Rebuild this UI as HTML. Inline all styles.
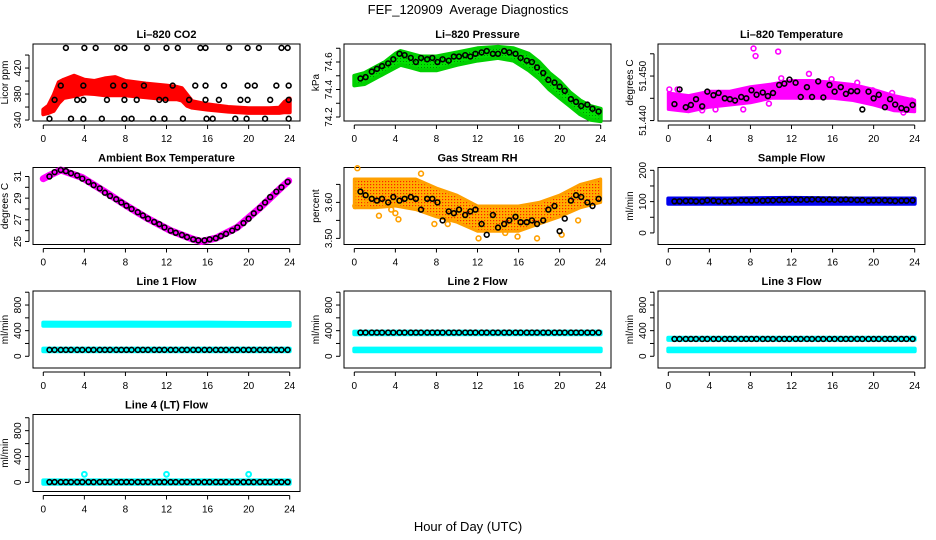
<!DOCTYPE html>
<html><head><meta charset="utf-8">
<style>
html,body{margin:0;padding:0;background:#fff;}
svg{display:block;font-family:"Liberation Sans",sans-serif;}
</style></head>
<body>
<svg id="chart" width="936" height="540" viewBox="0 0 936 540">
<defs>
<pattern id="rhpat" width="3" height="3" patternUnits="userSpaceOnUse">
<rect width="3" height="3" fill="#ffb000"/><rect x="1" y="1" width="1.2" height="1.2" fill="#ff2000"/>
</pattern>
<pattern id="grpat" width="3" height="3" patternUnits="userSpaceOnUse">
<rect width="3" height="3" fill="#00e000"/><rect x="1" y="1" width="1" height="1" fill="#008800"/>
</pattern>
</defs>
<text x="468" y="14" text-anchor="middle" font-size="13" xml:space="preserve">FEF_120909&#160; Average Diagnostics</text>
<text x="468" y="531" text-anchor="middle" font-size="13">Hour of Day (UTC)</text>
</svg>
<script>
// ---- shared data ----
const xTicks = [0,4,8,12,16,20,24];
const blackH = [0.6,1.1,1.7,2.2,2.7,3.3,3.8,4.4,4.9,5.5,6.0,6.5,7.1,7.6,8.1,8.6,9.2,9.7,10.2,10.8,11.3,11.8,12.4,12.9,13.5,14.0,14.6,15.1,15.7,16.2,16.8,17.3,17.8,18.4,18.9,19.5,20.0,20.5,21.1,21.6,22.1,22.7,23.2,23.8];

// CO2
const co2H = [2.2,4.0,5.1,7.2,7.9,10.1,12.0,13.1,15.3,15.8,18.1,19.9,21.0,23.2,23.8,
 1.7,3.9,6.8,7.9,9.8,12.6,14.8,15.8,17.6,19.9,20.6,22.7,23.9,
 1.1,3.3,3.9,6.2,7.9,9.1,11.3,11.9,14.2,15.8,17.1,19.2,19.9,22.1,23.9,
 0.6,2.7,3.9,5.7,7.9,8.6,10.7,11.8,13.6,15.9,16.5,18.7,19.8,21.6,23.9];
const co2V = [451,451,451,451,451,451,451,451,451,451,451,451,451,451,451,
 393,393,393,393,393,393,393,393,393,393,393,393,393,
 371,371,371,371,371,371,371,371,371,371,371,371,371,371,371,
 342,342,342,342,342,342,342,342,342,342,342,342,342,342,342];
const co2BandH = [0,0.5,1,1.5,2,3,4,5,6,7,8,10,12,13,13.5,14,14.5,16,18,20,22,23,23.5,24];
const co2Lo = [349,351,354,366,374,377,381,380,378,378,378,375,372,372,370,362,359,356,353,351,351,351,352,352];
const co2Hi = [356,362,378,398,402,408,402,400,404,406,400,396,393,391,389,379,369,364,360,358,358,359,368,373];

// Pressure
const presV = [74.48,74.49,74.53,74.55,74.57,74.59,74.62,74.66,74.65,74.63,74.60,74.63,74.62,74.63,74.60,74.62,74.61,74.64,74.64,74.65,74.64,74.66,74.67,74.68,74.66,74.66,74.68,74.67,74.66,74.63,74.61,74.60,74.56,74.52,74.47,74.45,74.42,74.39,74.33,74.31,74.28,74.29,74.26,74.24];
const presBandH = [0,1,2,3,4,4.5,5.5,6.5,8,10,12,14,15.5,17,18,19,20,21,22,23,24];
const presLo = [74.43,74.44,74.48,74.52,74.56,74.58,74.56,74.54,74.54,74.58,74.61,74.63,74.61,74.54,74.48,74.40,74.34,74.28,74.22,74.18,74.17];
const presHi = [74.50,74.52,74.56,74.60,74.66,74.68,74.66,74.64,74.64,74.67,74.70,74.71,74.70,74.66,74.60,74.52,74.46,74.38,74.32,74.28,74.26];

// Li-820 temperature
const tempV = [51.4437,51.4470,51.4430,51.4435,51.4448,51.4432,51.4465,51.4457,51.4462,51.4450,51.4448,51.4445,51.4453,51.4450,51.4468,51.4458,51.4463,51.4455,51.4462,51.4480,51.4483,51.4492,51.4485,51.4453,51.4475,51.4453,51.4488,51.4452,51.4480,51.4465,51.4475,51.4460,51.4466,51.4466,51.4425,51.4465,51.4450,51.4458,51.4430,51.4448,51.4436,51.4428,51.4425,51.4435];
const tempBandH = [0,2,4,6,8,10,12,14,16,18,20,22,24];
const tempLo = [51.4425,51.4420,51.4430,51.4435,51.4440,51.4450,51.4450,51.4450,51.4450,51.4445,51.4435,51.4422,51.4420];
const tempHi = [51.4462,51.4456,51.4466,51.4466,51.4476,51.4482,51.4490,51.4490,51.4486,51.4481,51.4470,51.4456,51.4446];
const tempOutH = [0.1,0.9,2.0,3.3,4.6,7.3,8.3,8.5,9.8,10.7,11.0,13.7,15.9,18.4,19.9,21.8,22.9,23.7];
const tempOutV = [51.4470,51.4470,51.4425,51.4423,51.4425,51.4425,51.4562,51.4545,51.4438,51.4555,51.4495,51.4505,51.4493,51.4485,51.4468,51.4462,51.4418,51.4445];

// Ambient box temperature
const ambV = [31.0,31.4,31.6,31.5,31.3,31.1,30.8,30.5,30.2,29.9,29.5,29.2,28.9,28.6,28.3,28.0,27.7,27.4,27.1,26.8,26.6,26.3,26.0,25.8,25.6,25.4,25.2,25.1,25.1,25.2,25.3,25.5,25.7,26.0,26.3,26.7,27.1,27.6,28.1,28.6,29.1,29.6,30.0,30.5];
const ambLineH = [0,0.6,1.7,3.8,6.0,8.1,10.2,12.4,14.6,15.4,16.8,18.9,21.1,23.2,23.9];
const ambLineV = [30.8,31.1,31.6,30.9,29.6,28.3,27.1,26.0,25.2,25.0,25.3,26.3,28.1,30.0,30.6];

// Gas stream RH
const rhV = [3.63,3.62,3.61,3.605,3.61,3.60,3.615,3.605,3.61,3.615,3.61,3.58,3.61,3.61,3.60,3.55,3.575,3.57,3.58,3.565,3.575,3.58,3.54,3.51,3.565,3.53,3.54,3.55,3.56,3.545,3.545,3.55,3.54,3.55,3.58,3.59,3.52,3.555,3.605,3.62,3.615,3.60,3.59,3.61];
const rhBandH = [0,2,4,6,8,10,12,14,16,18,20,22,24];
const rhLo = [3.585,3.585,3.590,3.580,3.560,3.545,3.520,3.520,3.520,3.540,3.560,3.585,3.600];
const rhHi = [3.665,3.665,3.665,3.665,3.640,3.620,3.590,3.590,3.590,3.600,3.620,3.650,3.665];
const rhOutH = [0.3,1.3,2.4,3.6,4.0,4.3,6.5,7.8,9.1,12.1,14.7,15.9,17.8,20.2,21.8,0.1];
const rhOutV = [3.695,3.600,3.563,3.580,3.570,3.553,3.680,3.540,3.540,3.500,3.515,3.505,3.500,3.510,3.550,3.590];

// Sample flow
const sampV = [101,101,102,102,101,101,104,103,101,101,101,103,104,104,103,104,103,104,104,105,105,106,106,106,106,107,107,106,107,106,106,107,106,105,105,103,104,104,104,103,102,103,103,104];
const sampLo = [93,93,93,93,93];
const sampHi = [110,110,112,110,110];
const sampBandH = [0,6,12,18,24];

// Line flows
const flowBandH = [0,4,8,12,16,20,24];
const l1HiLo = [478,478,478,478,478,478,478];
const l1HiHi = [525,522,526,524,526,520,520];
const l1LoLo = [80,80,80,80,80,80,80];
const l1LoHi = [120,120,120,120,120,120,120];
const l1Black = [100,100,100,100,100,100,100,100,100,100,100,100,100,100,100,100,100,100,100,100,100,100,100,100,100,100,100,100,100,100,100,100,100,100,100,100,100,100,100,100,100,100,100,100];
const l2HiLo = [345,345,345,345,345,345,345];
const l2HiHi = [385,385,385,385,385,385,385];
const l2Black = [370,370,370,370,370,370,370,370,370,370,370,370,370,370,370,370,370,370,370,370,370,370,370,370,370,370,370,370,370,370,370,370,370,370,370,370,370,370,370,370,370,370,370,370];
const l3HiLo = [255,255,255,255,255,255,255];
const l3HiHi = [290,290,290,290,290,290,290];
const l3Black = [270,270,270,270,270,270,270,270,270,270,270,270,270,270,270,270,270,270,270,270,270,270,270,270,270,270,270,270,270,270,270,270,270,270,270,270,270,270,270,270,270,270,270,270];
const l4Black = [5,5,5,5,5,5,5,5,5,5,5,5,5,5,5,5,5,5,5,5,5,5,5,5,5,5,5,5,5,5,5,5,5,5,5,5,5,5,5,5,5,5,5,5];
const l4CyanLo = [-20,-20,-20,-20,-20,-20,-20];
const l4CyanHi = [30,30,30,30,30,30,30];
const l4OutH = [4.0,12.0,20.0];
const l4OutV = [125,125,125];

// ---- drawing ----
const NS = "http://www.w3.org/2000/svg";
const svg = document.getElementById('chart');
function mk(tag, attrs, parent){
  const e = document.createElementNS(NS, tag);
  for (const k in attrs) e.setAttribute(k, attrs[k]);
  (parent||svg).appendChild(e);
  return e;
}
const colL = [33, 344, 658];
const W = 267, H = 77;
function panel(col,row,title,ylab,ymin,ymax,ticks,labels,name){
  const L = colL[col], T = 44 + row*123.5;
  const g = mk('g',{});
  
  
  const sx = h => L + 10.3 + h*(W-20.6)/24;
  const sy = v => T + H - (v-ymin)/(ymax-ymin)*H;
  const t = mk('text',{x:L+W/2,y:T-6,'text-anchor':'middle','font-size':'11','font-weight':'bold'},g);
  t.textContent = title;
  
  
  const box = mk('rect',{x:L,y:T,width:W,height:H,fill:'none',stroke:'#000','stroke-width':1},g);
  
  
  const xa = mk('g',{},g);
  
  
  mk('line',{x1:sx(0),x2:sx(24),y1:T+H+4,y2:T+H+4,stroke:'#000'},xa);
  xTicks.forEach(v=>{
    mk('line',{x1:sx(v),x2:sx(v),y1:T+H+4,y2:T+H+8,stroke:'#000'},xa);
    const tx = mk('text',{x:sx(v),y:T+H+21,'text-anchor':'middle','font-size':'10'},xa);
    tx.textContent = v;
  });
  const ya = mk('g',{},g);
  
  
  mk('line',{x1:L-4,x2:L-4,y1:sy(ticks[0]),y2:sy(ticks[ticks.length-1]),stroke:'#000'},ya);
  ticks.forEach(v=>{
    mk('line',{x1:L-8,x2:L-4,y1:sy(v),y2:sy(v),stroke:'#000'},ya);
  });
  labels.forEach(v=>{
    const yy = sy(v);
    const tx = mk('text',{x:L-12,y:yy,'text-anchor':'middle','font-size':'10',transform:`rotate(-90 ${L-12} ${yy})`},ya);
    tx.textContent = (typeof v==='number' && title.indexOf('Temperature')>=0 && v>51) ? v.toFixed(3) : (title==='Gas Stream RH'? v.toFixed(2) : v);
  });
  const yl = mk('text',{x:L-25,y:T+H/2,'text-anchor':'middle','font-size':'10',transform:`rotate(-90 ${L-25} ${T+H/2})`},g);
  yl.textContent = ylab;
  
  
  const plot = mk('g',{},g);
  
  
  return {sx,sy,g:plot};
}
function band(p,hs,lo,hi,fill,name,sw){
  let d = '';
  hs.forEach((h,i)=>{ d += (i?'L':'M')+p.sx(h).toFixed(1)+','+p.sy(hi[i]).toFixed(1); });
  for (let i=hs.length-1;i>=0;i--) d += 'L'+p.sx(hs[i]).toFixed(1)+','+p.sy(lo[i]).toFixed(1);
  const e = mk('path',{d:d+'Z',fill:fill,stroke:fill==='url(#rhpat)'?'#ffa000':(fill.startsWith('url')?'#00d000':fill),'stroke-width':sw||4,'stroke-linejoin':'round'},p.g);
  
  
}
function pts(p,hs,vs,color,name,sw){
  hs.forEach((h,i)=>{
    const c = mk('circle',{cx:p.sx(h),cy:p.sy(vs[i]),r:2.4,fill:'none',stroke:color,'stroke-width':sw||1.6},p.g);
    
    
  });
}
function poly(p,hs,vs,color,w,name){
  const d = hs.map((h,i)=>(i?'L':'M')+p.sx(h).toFixed(1)+','+p.sy(vs[i]).toFixed(1)).join('');
  const e = mk('path',{d:d,fill:'none',stroke:color,'stroke-width':w,'stroke-linecap':'round','stroke-linejoin':'round'},p.g);
  
  
}

// Panel 1: CO2
let p = panel(0,0,'Li\u2013820 CO2','Licor ppm',338.5,457,[340,360,380,400,420,440],[340,380,420],'co2-panel');
band(p,co2BandH,co2Lo,co2Hi,'#ff0000','co2-raw-band');
pts(p,co2H,co2V,'#000','co2-average-point');

// Panel 2: Pressure
p = panel(1,0,'Li\u2013820 Pressure','kPa',74.171,74.731,[74.2,74.3,74.4,74.5,74.6,74.7],[74.2,74.4,74.6],'pressure-panel');
band(p,presBandH,presLo,presHi,'url(#grpat)','pressure-raw-band');
pts(p,blackH,presV,'#000','pressure-average-point');

// Panel 3: Temperature
p = panel(2,0,'Li\u2013820 Temperature','degrees C',51.4399,51.4572,[51.440,51.445,51.450,51.455],[51.440,51.450],'li820-temperature-panel');
band(p,tempBandH,tempLo,tempHi,'#ff00ff','temperature-raw-band',3);
pts(p,tempOutH,tempOutV,'#ff00ff','temperature-raw-point');
pts(p,blackH,tempV,'#000','temperature-average-point');

// Panel 4: Ambient
p = panel(0,1,'Ambient Box Temperature','degrees C',24.72,31.83,[25,26,27,28,29,30,31],[25,27,29,31],'ambient-temperature-panel');
poly(p,ambLineH,ambLineV,'#ff00ff',7,'ambient-raw-line');
pts(p,blackH,ambV,'#000','ambient-average-point');

// Panel 5: RH
p = panel(1,1,'Gas Stream RH','percent',3.483,3.697,[3.50,3.55,3.60,3.65],[3.50,3.60],'rh-panel');
band(p,rhBandH,rhLo,rhHi,'url(#rhpat)','rh-raw-band',3);
pts(p,rhOutH,rhOutV,'#ffa000','rh-raw-point');
pts(p,blackH,rhV,'#000','rh-average-point');

// Panel 6: Sample flow
p = panel(2,1,'Sample Flow','ml/min',-37,209,[0,50,100,150,200],[0,100,200],'sample-flow-panel');
band(p,sampBandH,sampLo,sampHi,'#0000ee','sample-flow-raw-band');
pts(p,blackH,sampV,'#000','sample-flow-average-point');

// Panel 7: Line 1
const fT = [0,200,400,600,800,1000], fL = [0,400,800];
p = panel(0,2,'Line 1 Flow','ml/min',-183,1019,fT,fL,'line1-flow-panel');
band(p,flowBandH,l1HiLo,l1HiHi,'#00ffff','line1-high-band');
band(p,flowBandH,l1LoLo,l1LoHi,'#00ffff','line1-low-band');
pts(p,blackH,l1Black,'#000','line1-average-point');

// Panel 8: Line 2
p = panel(1,2,'Line 2 Flow','ml/min',-183,1019,fT,fL,'line2-flow-panel');
band(p,flowBandH,l2HiLo,l2HiHi,'#00ffff','line2-high-band');
band(p,flowBandH,l1LoLo,l1LoHi,'#00ffff','line2-low-band');
pts(p,blackH,l2Black,'#000','line2-average-point');

// Panel 9: Line 3
p = panel(2,2,'Line 3 Flow','ml/min',-183,1019,fT,fL,'line3-flow-panel');
band(p,flowBandH,l3HiLo,l3HiHi,'#00ffff','line3-high-band');
band(p,flowBandH,l1LoLo,l1LoHi,'#00ffff','line3-low-band');
pts(p,blackH,l3Black,'#000','line3-average-point');

// Panel 10: Line 4
p = panel(0,3,'Line 4 (LT) Flow','ml/min',-141,1050,fT,fL,'line4-flow-panel');
band(p,flowBandH,l4CyanLo,l4CyanHi,'#00ffff','line4-band');
pts(p,l4OutH,l4OutV,'#00ffff','line4-raw-point',2);
pts(p,blackH,l4Black,'#000','line4-average-point');
</script>
</body></html>
